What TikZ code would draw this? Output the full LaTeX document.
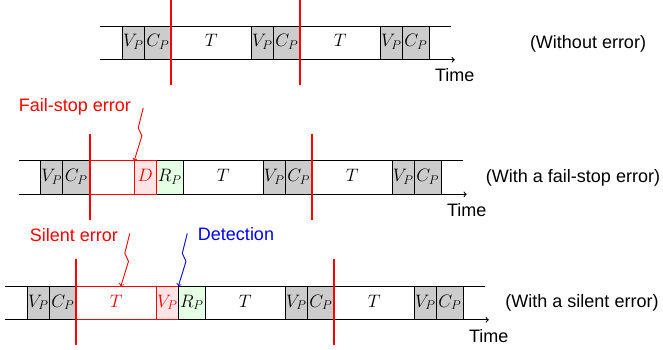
\RequirePackage{fix-cm}
\documentclass[tikz,border=0pt]{standalone}
\usepackage{fontspec}
\newfontfamily\lblfont{Liberation Sans}
\usetikzlibrary{calc}
\begin{document}
\begin{tikzpicture}[x=1pt,y=-1pt,
  font=\fontsize{18}{22}\selectfont,
  seg/.style={draw, line width=1.1pt, minimum height=33.5pt, inner sep=0pt, outer sep=0pt,
              text height=12pt, text depth=4pt, anchor=west},
  vp/.style={seg, fill=gray!40, minimum width=22pt},
  cp/.style={seg, fill=gray!40, minimum width=27pt},
  tt/.style={seg, fill=white, minimum width=80pt},
  lost/.style={seg, draw=red, fill=white, text=red, minimum width=44.5pt},
  redT/.style={seg, draw=red, fill=white, text=red, minimum width=80pt},
  det/.style={seg, draw=red, fill=red!10, text=red, minimum width=22pt},
  rp/.style={seg, fill=green!10, minimum width=27pt},
  axisline/.style={line width=1.1pt},
  timeaxis/.style={line width=1.1pt, ->},
  redline/.style={red, line width=2pt},
  lab/.style={font=\lblfont\fontsize{18}{22}\selectfont, inner sep=0pt},
  timelab/.style={lab, anchor=north},
  errarrow/.style={line width=0.9pt, ->},
]
\useasboundingbox (0,0) rectangle (663,350);

% ---------- Row 1: without error ----------
\node[vp] (a1) at (122.3,43) {$V_P$};
\node[cp] (a2) at (a1.east) {$C_P$};
\node[tt] (a3) at (a2.east) {$T$};
\node[vp] (a4) at (a3.east) {$V_P$};
\node[cp] (a5) at (a4.east) {$C_P$};
\node[tt] (a6) at (a5.east) {$T$};
\node[vp] (a7) at (a6.east) {$V_P$};
\node[cp] (a8) at (a7.east) {$C_P$};
\coordinate (t1e) at ($(a8.north east)+(22,0)$);
\coordinate (b1e) at ($(a8.south east)+(25.5,0)$);
\draw[axisline] (a1.north west) -- ++(-22,0);
\draw[axisline] (a1.south west) -- ++(-22,0);
\draw[axisline] (a8.north east) -- (t1e);
\draw[timeaxis] (a8.south east) -- (b1e);
\node[timelab] (time1) at ($(b1e)+(0,9)$) {Time};
\draw[redline] ($(a2.east)+(0,-44)$) -- ($(a2.east)+(0,42)$);
\draw[redline] ($(a5.east)+(0,-44)$) -- ($(a5.east)+(0,42)$);
\node[lab] (lab1) at (588,44) {(Without error)};

% ---------- Row 2: fail-stop error ----------
\node[vp] (b1) at (40.7,177.6) {$V_P$};
\node[cp] (b2) at (b1.east) {$C_P$};
\node[rp] (b5) at ($(b2.east)+(66.5,0)$) {$R_P$};
\node[lost] (b3) at (b2.east) {};
\node[det] (b4) at (b3.east) {$D$};
\node[tt] (b6) at (b5.east) {$T$};
\node[vp] (b7) at (b6.east) {$V_P$};
\node[cp] (b8) at (b7.east) {$C_P$};
\node[tt] (b9) at (b8.east) {$T$};
\node[vp] (b10) at (b9.east) {$V_P$};
\node[cp] (b11) at (b10.east) {$C_P$};
\coordinate (t2e) at ($(b11.north east)+(22,0)$);
\coordinate (b2e) at ($(b11.south east)+(25.5,0)$);
\draw[axisline] (b1.north west) -- ++(-22,0);
\draw[axisline] (b1.south west) -- ++(-22,0);
\draw[axisline] (b11.north east) -- (t2e);
\draw[timeaxis] (b11.south east) -- (b2e);
\node[timelab] (time2) at ($(b2e)+(0,9)$) {Time};
\draw[redline] ($(b2.east)+(0,-44)$) -- ($(b2.east)+(0,42)$);
\draw[redline] ($(b8.east)+(0,-44)$) -- ($(b8.east)+(0,42)$);
\node[lab] (lab2) at (573,177.5) {(With a fail-stop error)};
\node[lab, text=red] (fs) at (75,106.7) {Fail-stop error};
\coordinate (fsS) at ($(b4.north west)+(9,-53)$);
\draw[errarrow, red] (fsS) -- ++(-5,20) -- ++(3.7,8) -- (b4.north west);

% ---------- Row 3: silent error ----------
\node[vp] (c1) at (27.3,303.1) {$V_P$};
\node[cp] (c2) at (c1.east) {$C_P$};
\node[redT] (c3) at (c2.east) {$T$};
\node[det] (c4) at (c3.east) {$V_P$};
\node[rp] (c5) at (c4.east) {$R_P$};
\node[tt] (c6) at (c5.east) {$T$};
\node[vp] (c7) at (c6.east) {$V_P$};
\node[cp] (c8) at (c7.east) {$C_P$};
\node[tt] (c9) at (c8.east) {$T$};
\node[vp] (c10) at (c9.east) {$V_P$};
\node[cp] (c11) at (c10.east) {$C_P$};
\coordinate (t3e) at ($(c11.north east)+(22,0)$);
\coordinate (b3e) at ($(c11.south east)+(25.5,0)$);
\draw[axisline] (c1.north west) -- ++(-22,0);
\draw[axisline] (c1.south west) -- ++(-22,0);
\draw[axisline] (c11.north east) -- (t3e);
\draw[timeaxis] (c11.south east) -- (b3e);
\node[timelab] (time3) at ($(b3e)+(0,9)$) {Time};
\draw[redline] ($(c2.east)+(0,-44)$) -- ($(c2.east)+(0,42)$);
\draw[redline] ($(c8.east)+(0,-44)$) -- ($(c8.east)+(0,42)$);
\node[lab] (lab3) at (582,303) {(With a silent error)};
\node[lab, text=red] (se) at (74,235) {Silent error};
\node[lab, text=blue] (dt) at (236,234) {Detection};
\coordinate (seT) at ($(c3.north west)+(44.5,0)$);
\coordinate (seS) at ($(seT)+(9,-53)$);
\draw[errarrow, red] (seS) -- ++(-5,20) -- ++(3.7,8) -- (seT);
\coordinate (dtS) at ($(c5.north west)+(9,-53)$);
\draw[errarrow, blue] (dtS) -- ++(-5,20) -- ++(3.7,8) -- (c5.north west);
\end{tikzpicture}
\end{document}
